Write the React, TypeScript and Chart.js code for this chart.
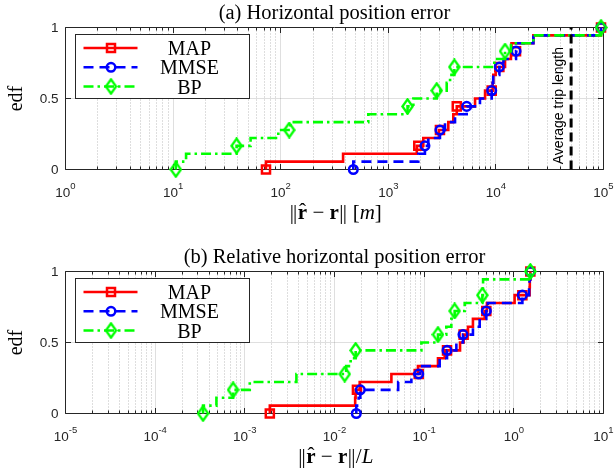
import React, { useEffect, useRef } from "react";
import { Chart, registerables } from "chart.js";

Chart.register(...registerables);

// ---------- shared ----------
const N = 18; // samples per ECDF
const MARK_K = [0, 3, 5, 8, 10, 13, 15, 18]; // ECDF levels (k/N) carrying a marker
const Y_TICKS = [0, 0.5, 1];
const Y_TICK_LABELS = ["0", "0.5", "1"];
const LEGEND_LABELS = ["MAP", "MMSE", "BP"];
const Y_LABEL = "edf";

// ---------- panel (a): horizontal position error [m] ----------
const A_TITLE = "(a) Horizontal position error";
const A_EXPONENTS = [0, 1, 2, 3, 4, 5];
const MAP_A = [73, 380, 1840, 2115, 2950, 3610, 4020, 4330, 6400, 7930, 9330, 9460, 9950, 12160, 13800, 13960, 22300, 94800];
const MMSE_A = [473, 1900, 2190, 2355, 3020, 3365, 4170, 5350, 7110, 9140, 9330, 9440, 10770, 11750, 15380, 15490, 22300, 94800];
const BP_A = [10.6, 13.2, 38.9, 52.5, 95, 123, 652, 1510, 1710, 2820, 3490, 3750, 4110, 9660, 12160, 13800, 22300, 94800];
const MAP_A_MARK = [73, 1900, 3020, 4330, 9140, 10770, 15380, 94800];
const MMSE_A_MARK = [473, 2190, 3020, 5350, 9140, 10770, 15380, 94800];
const BP_A_MARK = [10.6, 38.9, 120, 1510, 2820, 4110, 12160, 94800];
const AVG_TRIP_LENGTH = 5e4;
const AVG_TRIP_LABEL = "Average trip length";

// ---------- panel (b): relative horizontal position error ----------
const B_TITLE = "(b) Relative horizontal position error";
const B_EXPONENTS = [-5, -4, -3, -2, -1, 0, 1];
const MAP_B = [0.0019, 0.017, 0.0172, 0.0191, 0.0431, 0.0853, 0.1426, 0.1694, 0.2512, 0.2754, 0.3083, 0.3499, 0.4732, 0.5012, 1.02, 1.5, 1.507, 1.528];
const MMSE_B = [0.0175, 0.0186, 0.0194, 0.0513, 0.072, 0.09, 0.1489, 0.1799, 0.2286, 0.271, 0.3499, 0.4159, 0.4932, 0.513, 1.245, 1.479, 1.496, 1.528];
const BP_B = [0.000342, 0.000482, 0.00074, 0.001135, 0.00376, 0.01349, 0.01514, 0.01722, 0.0931, 0.1426, 0.1766, 0.2009, 0.2188, 0.2831, 0.4457, 0.4519, 0.4539, 1.528];
const MAP_B_MARK = [0.0019, 0.0178, 0.0869, 0.1799, 0.2754, 0.4932, 1.245, 1.528];
const MMSE_B_MARK = [0.0175, 0.0194, 0.0869, 0.1799, 0.271, 0.4932, 1.245, 1.528];
const BP_B_MARK = [0.000342, 0.00074, 0.013, 0.01722, 0.1426, 0.2188, 0.4457, 1.528];

// ---------- styles ----------
const RED = "#ff0000";
const BLUE = "#0000ff";
const GREEN = "#00ff00";
const AXIS = "#262626";
const LW = 2.6;
const DASH = [10, 6];
const DASHDOT = [10, 4, 2.5, 4];
const AVG_DASH = [9, 5];
const SERIF = '"Liberation Serif", "Times New Roman", "DejaVu Serif", serif';
const SANS = '"Liberation Sans", Arial, Helvetica, sans-serif';
const XL = 21; // x-label font size

function ecdfPoints(xs: number[]) {
  const pts = [{ x: xs[0], y: 0 }];
  xs.forEach((x, i) => pts.push({ x, y: (i + 1) / N }));
  return pts;
}
function markerPoints(xs: number[]) {
  return xs.map((x, i) => ({ x, y: MARK_K[i] / N }));
}

function makeDiamond(color: string) {
  const w = 13, h = 17, lw = 2.4;
  const c = document.createElement("canvas");
  c.width = w;
  c.height = h;
  const g = c.getContext("2d")!;
  g.strokeStyle = color;
  g.lineWidth = lw;
  const cx = w / 2, cy = h / 2, hw = w / 2 - lw / 2 - 0.2, hh = h / 2 - lw / 2 - 0.2;
  g.beginPath();
  g.moveTo(cx, cy - hh);
  g.lineTo(cx + hw, cy);
  g.lineTo(cx, cy + hh);
  g.lineTo(cx - hw, cy);
  g.closePath();
  g.stroke();
  return c;
}

type Seg = { t: string; f: string; hat?: boolean; bars?: boolean };

const A_XLABEL: Seg[] = [
  { t: "|", f: `${XL}px ${SERIF}`, bars: true },
  { t: "r", f: `bold ${XL}px ${SERIF}`, hat: true },
  { t: " − ", f: `${XL}px ${SERIF}` },
  { t: "r", f: `bold ${XL}px ${SERIF}` },
  { t: "|", f: `${XL}px ${SERIF}`, bars: true },
  { t: " [", f: `${XL}px ${SERIF}` },
  { t: "m", f: `italic ${XL}px ${SERIF}` },
  { t: "]", f: `${XL}px ${SERIF}` },
];
const B_XLABEL: Seg[] = [
  { t: "|", f: `${XL}px ${SERIF}`, bars: true },
  { t: "r", f: `bold ${XL}px ${SERIF}`, hat: true },
  { t: " − ", f: `${XL}px ${SERIF}` },
  { t: "r", f: `bold ${XL}px ${SERIF}` },
  { t: "|", f: `${XL}px ${SERIF}`, bars: true },
  { t: "/", f: `${XL}px ${SERIF}` },
  { t: "L", f: `italic ${XL}px ${SERIF}` },
];

const BAR_GAP = 3.4;

function drawSegments(ctx: CanvasRenderingContext2D, segs: Seg[], cx: number, base: number) {
  ctx.textAlign = "left";
  ctx.textBaseline = "alphabetic";
  const widths = segs.map((s) => {
    ctx.font = s.f;
    const w = ctx.measureText(s.t).width;
    return s.bars ? w + BAR_GAP + 1 : w;
  });
  const total = widths.reduce((p, w) => p + w, 0);
  let x = cx - total / 2;
  segs.forEach((s, i) => {
    ctx.font = s.f;
    if (s.bars) {
      ctx.fillText("|", x + 0.5, base);
      ctx.fillText("|", x + 0.5 + BAR_GAP, base);
    } else {
      ctx.fillText(s.t, x, base);
    }
    if (s.hat) {
      ctx.font = `${XL}px ${SERIF}`;
      ctx.textAlign = "center";
      ctx.fillText("ˆ", x + widths[i] / 2, base - 1);
      ctx.textAlign = "left";
    }
    x += widths[i];
  });
}

function drawLegend(ctx: CanvasRenderingContext2D, a: any, diamond: HTMLCanvasElement) {
  const bx = Math.round(a.left + 9.5) + 0.5;
  const by = Math.round(a.top + 6.5) + 0.5;
  const bw = 174, bh = 64;
  ctx.save();
  ctx.fillStyle = "#fff";
  ctx.fillRect(bx, by, bw, bh);
  ctx.strokeStyle = AXIS;
  ctx.lineWidth = 1;
  ctx.setLineDash([]);
  ctx.strokeRect(bx, by, bw, bh);
  const rows = [13.5, 32.8, 52];
  const colors = [RED, BLUE, GREEN];
  const dashes = [[], DASH, DASHDOT];
  rows.forEach((r, i) => {
    const y = by + r;
    ctx.strokeStyle = colors[i];
    ctx.lineWidth = LW;
    ctx.setLineDash(dashes[i]);
    ctx.beginPath();
    ctx.moveTo(bx + 8, y);
    ctx.lineTo(bx + 62, y);
    ctx.stroke();
    ctx.setLineDash([]);
    const mx = bx + 35.5;
    if (i === 0) {
      ctx.lineWidth = 2.5;
      ctx.strokeRect(mx - 4, y - 4, 8, 8);
    } else if (i === 1) {
      ctx.lineWidth = 2.5;
      ctx.beginPath();
      ctx.arc(mx, y, 4.3, 0, Math.PI * 2);
      ctx.stroke();
    } else {
      ctx.drawImage(diamond, mx - diamond.width / 2, y - diamond.height / 2);
    }
    ctx.fillStyle = "#000";
    ctx.font = `20px ${SERIF}`;
    ctx.textAlign = "center";
    ctx.textBaseline = "alphabetic";
    ctx.fillText(LEGEND_LABELS[i], bx + 114, y + 7);
  });
  ctx.restore();
}

function makePlugin(p: any, diamond: HTMLCanvasElement) {
  return {
    id: "matlabAxes",
    beforeDatasetsDraw(chart: any) {
      const ctx: CanvasRenderingContext2D = chart.ctx;
      const a = chart.chartArea;
      const xs = chart.scales.x, ys = chart.scales.y;
      const exps: number[] = p.exps;
      const L = Math.round(a.left - 0.5) + 0.5, R = Math.round(a.right - 0.5) + 0.5;
      const T = Math.round(a.top - 0.5) + 0.5, B = Math.round(a.bottom - 0.5) + 0.5;
      ctx.save();
      ctx.lineWidth = 1;
      // minor grid (dotted)
      ctx.strokeStyle = "rgba(38,38,38,0.3)";
      ctx.setLineDash([1, 2]);
      const minors: number[] = [];
      for (let i = 0; i < exps.length - 1; i++) {
        for (let m = 2; m <= 9; m++) minors.push(Math.round(xs.getPixelForValue(m * Math.pow(10, exps[i])) - 0.5) + 0.5);
      }
      ctx.beginPath();
      minors.forEach((px) => {
        ctx.moveTo(px, T);
        ctx.lineTo(px, B);
      });
      ctx.stroke();
      // major grid
      ctx.setLineDash([]);
      ctx.strokeStyle = "rgba(38,38,38,0.15)";
      ctx.beginPath();
      const majors = exps.map((e) => Math.round(xs.getPixelForValue(Math.pow(10, e)) - 0.5) + 0.5);
      majors.slice(1, -1).forEach((px) => {
        ctx.moveTo(px, T);
        ctx.lineTo(px, B);
      });
      Y_TICKS.slice(1, -1).forEach((v) => {
        const py = Math.round(ys.getPixelForValue(v) - 0.5) + 0.5;
        ctx.moveTo(L, py);
        ctx.lineTo(R, py);
      });
      ctx.stroke();
      // frame + ticks
      ctx.strokeStyle = AXIS;
      ctx.beginPath();
      ctx.rect(L, T, R - L, B - T);
      majors.forEach((px) => {
        ctx.moveTo(px, B);
        ctx.lineTo(px, B - 5.5);
        ctx.moveTo(px, T);
        ctx.lineTo(px, T + 5.5);
      });
      minors.forEach((px) => {
        ctx.moveTo(px, B);
        ctx.lineTo(px, B - 3);
        ctx.moveTo(px, T);
        ctx.lineTo(px, T + 3);
      });
      Y_TICKS.forEach((v) => {
        const py = Math.round(ys.getPixelForValue(v) - 0.5) + 0.5;
        ctx.moveTo(L, py);
        ctx.lineTo(L + 5.5, py);
        ctx.moveTo(R, py);
        ctx.lineTo(R - 5.5, py);
      });
      ctx.stroke();
      ctx.restore();
    },
    afterDatasetsDraw(chart: any) {
      const ctx: CanvasRenderingContext2D = chart.ctx;
      const a = chart.chartArea;
      const xs = chart.scales.x, ys = chart.scales.y;
      ctx.save();
      ctx.fillStyle = AXIS;
      // y tick labels
      ctx.font = `13.5px ${SANS}`;
      ctx.textAlign = "right";
      ctx.textBaseline = "alphabetic";
      Y_TICKS.forEach((v, i) => {
        ctx.fillText(Y_TICK_LABELS[i], a.left - 7, ys.getPixelForValue(v) + 4.8);
      });
      // x tick labels 10^e
      ctx.textAlign = "left";
      const base = a.bottom + 27;
      (p.exps as number[]).forEach((e) => {
        const px = xs.getPixelForValue(Math.pow(10, e));
        ctx.font = `13.5px ${SANS}`;
        const w1 = ctx.measureText("10").width;
        ctx.font = `9.5px ${SANS}`;
        const es = String(e);
        const w2 = ctx.measureText(es).width;
        const sx = px - (w1 + w2) / 2;
        ctx.font = `13.5px ${SANS}`;
        ctx.fillText("10", sx, base);
        ctx.font = `9.5px ${SANS}`;
        ctx.fillText(es, sx + w1, base - 7.5);
      });
      // title
      ctx.fillStyle = "#000";
      ctx.font = `20.5px ${SERIF}`;
      ctx.textAlign = "center";
      ctx.fillText(p.title, (a.left + a.right) / 2, a.top - 8.5);
      // y label
      ctx.save();
      ctx.font = `20px ${SERIF}`;
      ctx.translate(21.5, (a.top + a.bottom) / 2);
      ctx.rotate(-Math.PI / 2);
      ctx.textAlign = "center";
      ctx.fillText(Y_LABEL, 0, 0);
      ctx.restore();
      // x label
      drawSegments(ctx, p.xlabel, (a.left + a.right) / 2 + 1, a.bottom + 49.5);
      // average trip length annotation
      if (p.avg !== undefined) {
        ctx.save();
        ctx.translate(xs.getPixelForValue(p.avg) - 8.5, ys.getPixelForValue(0.45));
        ctx.rotate(-Math.PI / 2);
        ctx.font = `14px ${SANS}`;
        ctx.textAlign = "center";
        ctx.fillStyle = "#000";
        ctx.fillText(AVG_TRIP_LABEL, 0, 0);
        ctx.restore();
      }
      drawLegend(ctx, a, diamond);
      ctx.restore();
    },
  };
}

function makeConfig(p: any, diamond: HTMLCanvasElement): any {
  const datasets: any[] = [];
  if (p.avg !== undefined) {
    datasets.push({
      label: "avg",
      data: [
        { x: p.avg, y: 0 },
        { x: p.avg, y: 1 },
      ],
      borderColor: "#000",
      borderWidth: 3,
      borderDash: AVG_DASH,
      pointRadius: 0,
      order: 0,
      clip: false,
    });
  }
  const markerBase = { showLine: false, pointBackgroundColor: "rgba(0,0,0,0)", clip: false, pointHoverRadius: 0 };
  datasets.push({ ...markerBase, label: "BP m", data: markerPoints(p.bpM), borderColor: GREEN, pointStyle: diamond, pointRadius: 6, order: 1 });
  datasets.push({ label: "BP", data: ecdfPoints(p.bp), borderColor: GREEN, borderWidth: LW, borderDash: DASHDOT, stepped: "before", pointRadius: 0, order: 2, clip: false });
  datasets.push({ ...markerBase, label: "MMSE m", data: markerPoints(p.mmseM), borderColor: BLUE, pointBorderColor: BLUE, pointStyle: "circle", pointRadius: 4.3, pointBorderWidth: 2.5, order: 3 });
  datasets.push({ label: "MMSE", data: ecdfPoints(p.mmse), borderColor: BLUE, borderWidth: LW, borderDash: DASH, stepped: "before", pointRadius: 0, order: 4, clip: false });
  datasets.push({ ...markerBase, label: "MAP m", data: markerPoints(p.mapM), borderColor: RED, pointBorderColor: RED, pointStyle: "rect", pointRadius: 5.7, pointBorderWidth: 2.5, order: 5 });
  datasets.push({ label: "MAP", data: ecdfPoints(p.map), borderColor: RED, borderWidth: LW, stepped: "before", pointRadius: 0, order: 6, clip: false });

  return {
    type: "line",
    data: { datasets },
    options: {
      animation: false,
      responsive: false,
      events: [],
      layout: { padding: p.padding },
      scales: {
        x: { type: "logarithmic", min: Math.pow(10, p.exps[0]), max: Math.pow(10, p.exps[p.exps.length - 1]), display: false },
        y: { type: "linear", min: 0, max: 1, display: false },
      },
      plugins: { legend: { display: false }, tooltip: { enabled: false } },
    },
    plugins: [makePlugin(p, diamond)],
  };
}

const PANEL_A = {
  title: A_TITLE,
  exps: A_EXPONENTS,
  map: MAP_A,
  mmse: MMSE_A,
  bp: BP_A,
  mapM: MAP_A_MARK,
  mmseM: MMSE_A_MARK,
  bpM: BP_A_MARK,
  avg: AVG_TRIP_LENGTH,
  xlabel: A_XLABEL,
  padding: { left: 65.5, right: 12.5, top: 27.5, bottom: 70.5 },
};
const PANEL_B = {
  title: B_TITLE,
  exps: B_EXPONENTS,
  map: MAP_B,
  mmse: MMSE_B,
  bp: BP_B,
  mapM: MAP_B_MARK,
  mmseM: MMSE_B_MARK,
  bpM: BP_B_MARK,
  avg: undefined,
  xlabel: B_XLABEL,
  padding: { left: 65.5, right: 12.5, top: 31.5, bottom: 59.5 },
};

export default function App() {
  const refA = useRef<HTMLCanvasElement>(null);
  const refB = useRef<HTMLCanvasElement>(null);
  useEffect(() => {
    const diamond = makeDiamond(GREEN);
    const cA = new Chart(refA.current!, makeConfig(PANEL_A, diamond));
    const cB = new Chart(refB.current!, makeConfig(PANEL_B, diamond));
    return () => {
      cA.destroy();
      cB.destroy();
    };
  }, []);
  return (
    <div style={{ position: "absolute", left: 0, top: 0, width: 616, height: 473, background: "#fff", overflow: "hidden" }}>
      <canvas ref={refA} width={616} height={240} style={{ position: "absolute", left: 0, top: 0 }} />
      <canvas ref={refB} width={616} height={233} style={{ position: "absolute", left: 0, top: 240 }} />
    </div>
  );
}
